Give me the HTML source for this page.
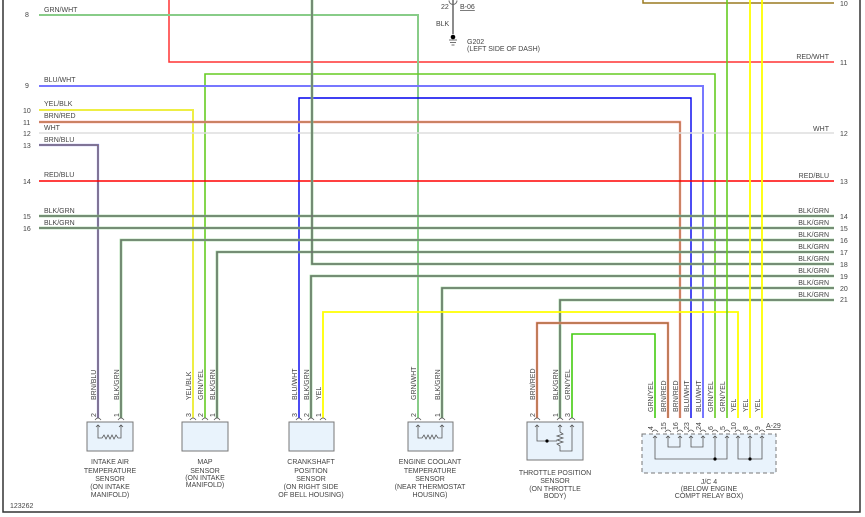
<!DOCTYPE html>
<html><head><meta charset="utf-8"><style>
html,body{margin:0;padding:0;background:#fff;}
svg{display:block;font-family:"Liberation Sans",sans-serif;}
text{fill:#444;font-size:7px;}
</style></head><body>
<svg width="865" height="517" viewBox="0 0 865 517" xmlns="http://www.w3.org/2000/svg">
<rect x="3" y="-5" width="857" height="517" fill="none" stroke="#333" stroke-width="1.5"/>
<g fill="none" stroke-linejoin="miter">
<!-- two-tone wires: under stroke then top stroke -->
<path d="M169 0V62H834" stroke="#f33" stroke-width="1.5"/>
<path d="M643 0V3H834" stroke="#9a7a20" stroke-width="1.5"/>
<path d="M39 15H418V418" stroke="#8c8" stroke-width="2"/>
<path d="M205 418V74H715V418" stroke="#6c2" stroke-width="1.6"/>
<path d="M39 86H703V418" stroke="#77f" stroke-width="2"/>
<path d="M299 418V98H691V418" stroke="#00e" stroke-width="1.4"/>
<path d="M39 110H193V418" stroke="#ee4" stroke-width="2"/>
<path d="M39 122H680V418" stroke="#f99" stroke-width="2.4"/>
<path d="M39 122H680V418" stroke="#9a6a30" stroke-width="1"/>
<path d="M39 133H834" stroke="#ddd" stroke-width="1.6"/>
<path d="M39 145H98V418" stroke="#77e" stroke-width="2.2"/>
<path d="M39 145H98V418" stroke="#8a7040" stroke-width="1"/>
<path d="M39 181H834" stroke="#f00" stroke-width="1.5"/>
<g stroke="#8c8" stroke-width="2.6">
<path d="M312 0V264H834"/><path d="M39 216H834"/><path d="M39 228H834"/>
<path d="M121 418V240H834"/><path d="M217 418V252H834"/><path d="M311 418V276H834"/>
<path d="M442 418V288H834"/><path d="M560 418V300H834"/>
</g>
<g stroke="#6a6a6a" stroke-width="1.3">
<path d="M312 0V264H834"/><path d="M39 216H834"/><path d="M39 228H834"/>
<path d="M121 418V240H834"/><path d="M217 418V252H834"/><path d="M311 418V276H834"/>
<path d="M442 418V288H834"/><path d="M560 418V300H834"/>
</g>
<path d="M323 418V312H738V418" stroke="#ff0" stroke-width="1.8"/>
<path d="M537 418V323H668V418" stroke="#f99" stroke-width="2.4"/>
<path d="M537 418V323H668V418" stroke="#9a6a30" stroke-width="1.2"/>
<path d="M572 418V334H655V418" stroke="#4c1" stroke-width="1.6"/>
<path d="M727 0V418" stroke="#6c2" stroke-width="1.6"/>
<path d="M750 0V418" stroke="#ff0" stroke-width="1.8"/>
<path d="M762 0V418" stroke="#ff0" stroke-width="1.8"/>
<!-- ground -->
<path d="M453 0V34" stroke="#666" stroke-width="1.5"/>
<path d="M449 0.5A4 4 0 0 0 457 0.5" stroke="#666"/>
<path d="M449 40H457M450 42.5H456M451.5 45H454.5" stroke="#444" stroke-width="0.8"/>
</g>
<circle cx="453" cy="37" r="2.3" fill="#000"/>
<text x="441" y="9">22</text><text x="460" y="9" text-decoration="underline">B-06</text>
<text x="436" y="26">BLK</text>
<text x="467" y="44">G202</text><text x="467" y="51">(LEFT SIDE OF DASH)</text>
<!-- left labels -->
<g>
<text x="25" y="17">8</text><text x="44" y="12">GRN/WHT</text>
<text x="25" y="88">9</text><text x="44" y="82">BLU/WHT</text>
<text x="23" y="113">10</text><text x="44" y="106">YEL/BLK</text>
<text x="23" y="125">11</text><text x="44" y="118">BRN/RED</text>
<text x="23" y="136">12</text><text x="44" y="130">WHT</text>
<text x="23" y="148">13</text><text x="44" y="142">BRN/BLU</text>
<text x="23" y="184">14</text><text x="44" y="177">RED/BLU</text>
<text x="23" y="219">15</text><text x="44" y="213">BLK/GRN</text>
<text x="23" y="231">16</text><text x="44" y="225">BLK/GRN</text>
</g>
<g text-anchor="end">
<text x="829" y="59">RED/WHT</text><text x="829" y="131">WHT</text><text x="829" y="178">RED/BLU</text>
<text x="829" y="213">BLK/GRN</text><text x="829" y="225">BLK/GRN</text><text x="829" y="237">BLK/GRN</text>
<text x="829" y="249">BLK/GRN</text><text x="829" y="261">BLK/GRN</text><text x="829" y="273">BLK/GRN</text>
<text x="829" y="285">BLK/GRN</text><text x="829" y="297">BLK/GRN</text>
</g>
<g>
<text x="840" y="6">10</text><text x="840" y="65">11</text><text x="840" y="136">12</text><text x="840" y="184">13</text>
<text x="840" y="219">14</text><text x="840" y="231">15</text><text x="840" y="243">16</text><text x="840" y="255">17</text>
<text x="840" y="267">18</text><text x="840" y="279">19</text><text x="840" y="291">20</text><text x="840" y="302">21</text>
</g>
<!-- vertical labels -->
<g font-size="6.5">
<text transform="translate(96,400) rotate(-90)">BRN/BLU</text>
<text transform="translate(119,400) rotate(-90)">BLK/GRN</text>
<text transform="translate(191,400) rotate(-90)">YEL/BLK</text>
<text transform="translate(203,400) rotate(-90)">GRN/YEL</text>
<text transform="translate(215,400) rotate(-90)">BLK/GRN</text>
<text transform="translate(297,400) rotate(-90)">BLU/WHT</text>
<text transform="translate(309,400) rotate(-90)">BLK/GRN</text>
<text transform="translate(321,400) rotate(-90)">YEL</text>
<text transform="translate(416,400) rotate(-90)">GRN/WHT</text>
<text transform="translate(440,400) rotate(-90)">BLK/GRN</text>
<text transform="translate(535,400) rotate(-90)">BRN/RED</text>
<text transform="translate(558,400) rotate(-90)">BLK/GRN</text>
<text transform="translate(570,400) rotate(-90)">GRN/YEL</text>
<text transform="translate(653,412) rotate(-90)">GRN/YEL</text>
<text transform="translate(666,412) rotate(-90)">BRN/RED</text>
<text transform="translate(678,412) rotate(-90)">BRN/RED</text>
<text transform="translate(689,412) rotate(-90)">BLU/WHT</text>
<text transform="translate(701,412) rotate(-90)">BLU/WHT</text>
<text transform="translate(713,412) rotate(-90)">GRN/YEL</text>
<text transform="translate(725,412) rotate(-90)">GRN/YEL</text>
<text transform="translate(736,412) rotate(-90)">YEL</text>
<text transform="translate(748,412) rotate(-90)">YEL</text>
<text transform="translate(760,412) rotate(-90)">YEL</text>
</g>
<g font-size="6.5">
<text transform="translate(96,417) rotate(-90)">2</text><text transform="translate(119,417) rotate(-90)">1</text>
<text transform="translate(191,417) rotate(-90)">3</text><text transform="translate(203,417) rotate(-90)">2</text><text transform="translate(215,417) rotate(-90)">1</text>
<text transform="translate(297,417) rotate(-90)">3</text><text transform="translate(309,417) rotate(-90)">2</text><text transform="translate(321,417) rotate(-90)">1</text>
<text transform="translate(416,417) rotate(-90)">2</text><text transform="translate(440,417) rotate(-90)">1</text>
<text transform="translate(535,417) rotate(-90)">2</text><text transform="translate(558,417) rotate(-90)">1</text><text transform="translate(570,417) rotate(-90)">3</text>
<text transform="translate(653,430) rotate(-90)">4</text><text transform="translate(666,430) rotate(-90)">15</text>
<text transform="translate(678,430) rotate(-90)">16</text><text transform="translate(689,430) rotate(-90)">23</text>
<text transform="translate(701,430) rotate(-90)">24</text><text transform="translate(713,430) rotate(-90)">6</text>
<text transform="translate(725,430) rotate(-90)">5</text><text transform="translate(736,430) rotate(-90)">10</text>
<text transform="translate(748,430) rotate(-90)">8</text><text transform="translate(760,430) rotate(-90)">9</text>
</g>
<text x="766" y="428" text-decoration="underline">A-29</text>
<!-- boxes -->
<g fill="#e9f3fc" stroke="#777">
<rect x="87" y="422" width="46" height="29"/>
<rect x="182" y="422" width="46" height="29"/>
<rect x="289" y="422" width="45" height="29"/>
<rect x="408" y="422" width="45" height="29"/>
<rect x="527" y="422" width="56" height="38"/>
<rect x="642" y="434" width="134" height="39" stroke-dasharray="4,3"/>
</g>
<!-- pin arcs -->
<g fill="none" stroke="#555" stroke-width="0.8">
<path d="M95 420q3-4 6 0M118 420q3-4 6 0M190 420q3-4 6 0M202 420q3-4 6 0M214 420q3-4 6 0M296 420q3-4 6 0M308 420q3-4 6 0M320 420q3-4 6 0M415 420q3-4 6 0M439 420q3-4 6 0M534 420q3-4 6 0M557 420q3-4 6 0M569 420q3-4 6 0"/>
<path d="M652 432q3-4 6 0M665 432q3-4 6 0M677 432q3-4 6 0M688 432q3-4 6 0M700 432q3-4 6 0M712 432q3-4 6 0M724 432q3-4 6 0M735 432q3-4 6 0M747 432q3-4 6 0M759 432q3-4 6 0"/>
<!-- internals -->
<path d="M98 425V438H102l2-3 2 4 2-4 2 4 2-4 2 4 2-4 2 3H121V425M96 427l2-2 2 2M119 427l2-2 2 2"/>
<path d="M418 425V438H422l2-3 2 4 2-4 2 4 2-4 2 4 2-4 2 3H442V425M416 427l2-2 2 2M440 427l2-2 2 2"/>
<path d="M537 425V441H557M560 425V432l3 2-6 2 6 2-6 2 6 2-6 2 3 2V451H572V425M535 427l2-2 2 2M558 427l2-2 2 2M570 427l2-2 2 2"/>
<path d="M655 436V459H727V436M715 436V459M668 436V447H680V436M691 436V447H703V436M738 436V459H762V436M750 436V459"/>
<path d="M653 438l2-2 2 2M666 438l2-2 2 2M678 438l2-2 2 2M689 438l2-2 2 2M701 438l2-2 2 2M713 438l2-2 2 2M725 438l2-2 2 2M736 438l2-2 2 2M748 438l2-2 2 2M760 438l2-2 2 2"/>
</g>
<circle cx="547" cy="441" r="1.6" fill="#000"/>
<circle cx="715" cy="459" r="1.6" fill="#000"/>
<circle cx="750" cy="459" r="1.6" fill="#000"/>
<!-- captions -->
<g text-anchor="middle" font-size="6.8">
<text x="110" y="464">INTAKE AIR</text><text x="110" y="473">TEMPERATURE</text><text x="110" y="481">SENSOR</text><text x="110" y="489">(ON INTAKE</text><text x="110" y="497">MANIFOLD)</text>
<text x="205" y="464">MAP</text><text x="205" y="473">SENSOR</text><text x="205" y="480">(ON INTAKE</text><text x="205" y="487">MANIFOLD)</text>
<text x="311" y="464">CRANKSHAFT</text><text x="311" y="473">POSITION</text><text x="311" y="481">SENSOR</text><text x="311" y="489">(ON RIGHT SIDE</text><text x="311" y="497">OF BELL HOUSING)</text>
<text x="430" y="464">ENGINE COOLANT</text><text x="430" y="473">TEMPERATURE</text><text x="430" y="481">SENSOR</text><text x="430" y="489">(NEAR THERMOSTAT</text><text x="430" y="497">HOUSING)</text>
<text x="555" y="475">THROTTLE POSITION</text><text x="555" y="483">SENSOR</text><text x="555" y="491">(ON THROTTLE</text><text x="555" y="498">BODY)</text>
<text x="709" y="484">J/C 4</text><text x="709" y="491">(BELOW ENGINE</text><text x="709" y="498">COMPT RELAY BOX)</text>
</g>
<text x="10" y="508" font-size="6.5">123262</text>
</svg>
</body></html>
